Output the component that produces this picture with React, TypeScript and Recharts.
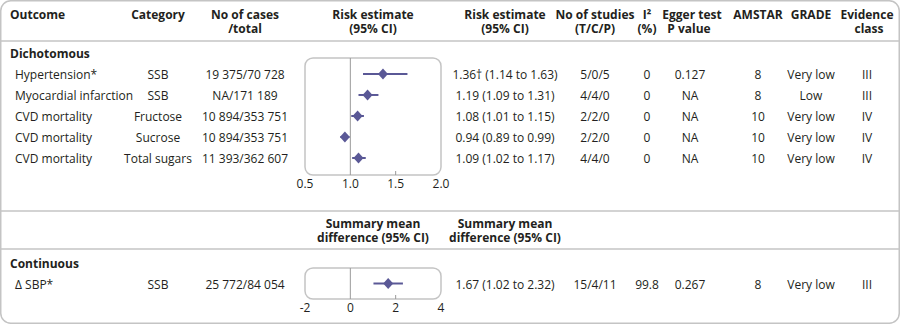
import React from "react";
import { ScatterChart, Scatter, XAxis, YAxis, ErrorBar, ReferenceLine } from "recharts";

// dichotomous outcomes
const outcomes = ["Hypertension*", "Myocardial infarction", "CVD mortality", "CVD mortality", "CVD mortality"];
const categories = ["SSB", "SSB", "Fructose", "Sucrose", "Total sugars"];
const cases = ["19 375/70 728", "NA/171 189", "10 894/353 751", "10 894/353 751", "11 393/362 607"];
const estimates = [1.36, 1.19, 1.08, 0.94, 1.09];
const lower = [1.14, 1.09, 1.01, 0.89, 1.02];
const upper = [1.63, 1.31, 1.15, 0.99, 1.17];
const estimateText = [
  "1.36† (1.14 to 1.63)", "1.19 (1.09 to 1.31)", "1.08 (1.01 to 1.15)",
  "0.94 (0.89 to 0.99)", "1.09 (1.02 to 1.17)",
];
const studies = ["5/0/5", "4/4/0", "2/2/0", "2/2/0", "4/4/0"];
const i2 = ["0", "0", "0", "0", "0"];
const egger = ["0.127", "NA", "NA", "NA", "NA"];
const amstar = ["8", "8", "10", "10", "10"];
const grade = ["Very low", "Low", "Very low", "Very low", "Very low"];
const evidence = ["III", "III", "IV", "IV", "IV"];
const riskTicks = [0.5, 1, 1.5, 2];

// continuous outcome
const contOutcomes = ["Δ SBP*"];
const contCategories = ["SSB"];
const contCases = ["25 772/84 054"];
const contEstimates = [1.67];
const contLower = [1.02];
const contUpper = [2.32];
const contText = ["1.67 (1.02 to 2.32)"];
const contStudies = ["15/4/11"];
const contI2 = ["99.8"];
const contEgger = ["0.267"];
const contAmstar = ["8"];
const contGrade = ["Very low"];
const contEvidence = ["III"];
const diffTicks = [-2, 0, 2, 4];

const INK = "#231f20";
const GRID = "#c4c4c4";
const MARK = "#5a5896";
const FONT = "'Open Sans', sans-serif";

const riskData = estimates.map((est, i) => ({ row: i, est, err: [est - lower[i], upper[i] - est] }));
const contData = contEstimates.map((est, i) => ({ row: i, est, err: [est - contLower[i], contUpper[i] - est] }));

const Diamond = (props: any) => {
  const { cx, cy } = props;
  return (
    <polygon
      points={`${cx - 5},${cy} ${cx},${cy - 5.5} ${cx + 5},${cy} ${cx},${cy + 5.5}`}
      fill={MARK}
    />
  );
};

// column x positions (centre)
const COLS = { category: 158, cases: 245, plot: 373, est: 505, studies: 595, i2: 647, egger: 690, amstar: 758, grade: 811, evidence: 867 };

function Row({ y, cells }: { y: number; cells: string[] }) {
  const [outcome, cat, cs, est, st, i, eg, am, gr, ev] = cells;
  const c = (x: number, t: string) => (
    <text x={x} y={y} textAnchor="middle" dominantBaseline="central">{t}</text>
  );
  return (
    <g>
      <text x={15} y={y} dominantBaseline="central">{outcome}</text>
      {c(COLS.category, cat)}
      {c(COLS.cases, cs)}
      {c(COLS.est, est)}
      {c(COLS.studies, st)}
      {c(COLS.i2, i)}
      {c(COLS.egger, eg)}
      {c(COLS.amstar, am)}
      {c(COLS.grade, gr)}
      {c(COLS.evidence, ev)}
    </g>
  );
}

function Forest({ data, domain, ticks, refX, yDomain, height, fmt }: any) {
  // small inner tick marks on the bottom edge, skipping edges and the reference line
  const inner = ticks.filter((t: number) => t !== domain[0] && t !== domain[1] && t !== refX);
  const tickLen = ((yDomain[1] - yDomain[0]) * 4) / height;
  return (
    <ScatterChart width={176} height={height + 20} margin={{ top: 0, right: 20, bottom: 0, left: 20 }}>
      <XAxis
        type="number"
        dataKey="est"
        domain={domain}
        ticks={ticks}
        allowDataOverflow
        axisLine={false}
        tickLine={false}
        tickSize={0}
        tickMargin={4}
        height={20}
        tick={{ fill: INK, fontSize: 12, fontFamily: FONT }}
        tickFormatter={fmt}
      />
      <YAxis type="number" dataKey="row" domain={yDomain} reversed hide allowDataOverflow />
      <ReferenceLine x={refX} stroke="#9a9a9a" strokeWidth={1} />
      {inner.map((t: number) => (
        <ReferenceLine
          key={t}
          segment={[{ x: t, y: yDomain[1] }, { x: t, y: yDomain[1] - tickLen }]}
          stroke="#9a9a9a"
          strokeWidth={1}
        />
      ))}
      <Scatter data={data} shape={<Diamond />} isAnimationActive={false}>
        <ErrorBar dataKey="err" direction="x" width={0} stroke={MARK} strokeWidth={2} />
      </Scatter>
    </ScatterChart>
  );
}

export default function App() {
  return (
    <div style={{ position: "absolute", left: 0, top: 0, width: 900, height: 324, background: "#fff", fontFamily: FONT }}>
      <svg width={900} height={324} style={{ position: "absolute", left: 0, top: 0 }} fontSize={12} fill={INK} fontFamily={FONT}>
        <rect x={0.75} y={0.75} width={898.5} height={322.5} rx={10} fill="none" stroke={GRID} strokeWidth={1.5} />
        <line x1={1} x2={899} y1={41} y2={41} stroke={GRID} strokeWidth={1.5} />
        <line x1={1} x2={899} y1={211} y2={211} stroke={GRID} strokeWidth={1.5} />
        <line x1={1} x2={899} y1={249} y2={249} stroke={GRID} strokeWidth={1.5} />

        {/* headers */}
        <g fontWeight={700}>
          <text x={10} y={14} dominantBaseline="central">Outcome</text>
          <text x={COLS.category} y={14} textAnchor="middle" dominantBaseline="central">Category</text>
          <text x={COLS.cases} y={14} textAnchor="middle" dominantBaseline="central">No of cases</text>
          <text x={COLS.cases} y={28} textAnchor="middle" dominantBaseline="central">/total</text>
          <text x={COLS.plot} y={14} textAnchor="middle" dominantBaseline="central">Risk estimate</text>
          <text x={COLS.plot} y={28} textAnchor="middle" dominantBaseline="central">(95% CI)</text>
          <text x={COLS.est} y={14} textAnchor="middle" dominantBaseline="central">Risk estimate</text>
          <text x={COLS.est} y={28} textAnchor="middle" dominantBaseline="central">(95% CI)</text>
          <text x={COLS.studies} y={14} textAnchor="middle" dominantBaseline="central">No of studies</text>
          <text x={COLS.studies} y={28} textAnchor="middle" dominantBaseline="central">(T/C/P)</text>
          <text x={COLS.i2} y={14} textAnchor="middle" dominantBaseline="central">I²</text>
          <text x={COLS.i2} y={28} textAnchor="middle" dominantBaseline="central">(%)</text>
          <text x={692} y={14} textAnchor="middle" dominantBaseline="central">Egger test</text>
          <text x={689} y={28} textAnchor="middle" dominantBaseline="central">P value</text>
          <text x={COLS.amstar} y={14} textAnchor="middle" dominantBaseline="central">AMSTAR</text>
          <text x={COLS.grade} y={14} textAnchor="middle" dominantBaseline="central">GRADE</text>
          <text x={COLS.evidence} y={14} textAnchor="middle" dominantBaseline="central">Evidence</text>
          <text x={869} y={28} textAnchor="middle" dominantBaseline="central">class</text>

          <text x={10} y={53} dominantBaseline="central">Dichotomous</text>

          <text x={COLS.plot} y={223} textAnchor="middle" dominantBaseline="central">Summary mean</text>
          <text x={COLS.plot} y={237} textAnchor="middle" dominantBaseline="central">difference (95% CI)</text>
          <text x={COLS.est} y={223} textAnchor="middle" dominantBaseline="central">Summary mean</text>
          <text x={COLS.est} y={237} textAnchor="middle" dominantBaseline="central">difference (95% CI)</text>

          <text x={10} y={263} dominantBaseline="central">Continuous</text>
        </g>

        {outcomes.map((o, i) => (
          <Row
            key={i}
            y={74 + i * 21}
            cells={[o, categories[i], cases[i], estimateText[i], studies[i], i2[i], egger[i], amstar[i], grade[i], evidence[i]]}
          />
        ))}
        {contOutcomes.map((o, i) => (
          <Row
            key={i}
            y={284}
            cells={[o, contCategories[i], contCases[i], contText[i], contStudies[i], contI2[i], contEgger[i], contAmstar[i], contGrade[i], contEvidence[i]]}
          />
        ))}

        {/* plot frames */}
        <rect x={305} y={58} width={136} height={117} rx={8} fill="none" stroke={GRID} strokeWidth={1.5} />
        <rect x={305} y={268} width={136} height={31} rx={8} fill="none" stroke={GRID} strokeWidth={1.5} />
      </svg>

      <div style={{ position: "absolute", left: 285, top: 58 }}>
        <Forest data={riskData} domain={[0.5, 2]} ticks={riskTicks} refX={1} yDomain={[-0.76, 4.81]} height={117} fmt={(v: number) => v.toFixed(1)} />
      </div>
      <div style={{ position: "absolute", left: 285, top: 268 }}>
        <Forest data={contData} domain={[-2, 4]} ticks={diffTicks} refX={0} yDomain={[-0.5, 0.5]} height={31} fmt={(v: number) => String(v)} />
      </div>
    </div>
  );
}
